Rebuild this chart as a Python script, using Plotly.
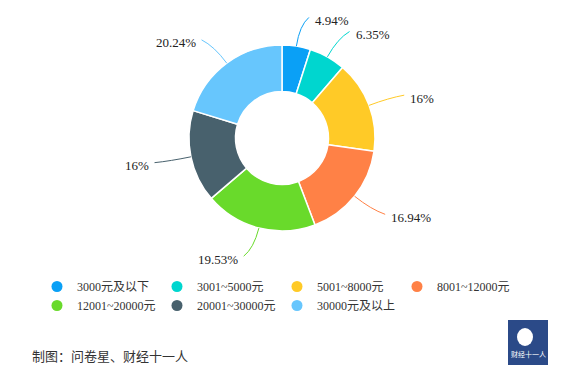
import math
import plotly.graph_objects as go

categories = ["3000元及以下", "3001~5000元", "5001~8000元", "8001~12000元",
              "12001~20000元", "20001~30000元", "30000元及以上"]
values = [4.94, 6.35, 16, 16.94, 19.53, 16, 20.24]
labels_text = ["4.94%", "6.35%", "16%", "16.94%", "19.53%", "16%", "20.24%"]
colors = ["#0aa0f6", "#00d6cf", "#ffca27", "#ff8146", "#69da2b", "#48616d", "#67c6fd"]

W, H = 570, 381
CX, CY, R = 282, 138, 93
R_CTRL = 114
R_END = 122
SHIFT = 8
GAP = 4


def px(x):
    return x / W


def py(y):
    return 1 - y / H


fig = go.Figure()
fig.add_trace(go.Pie(
    labels=categories, values=values, sort=False, direction="clockwise", rotation=0,
    hole=0.5, textinfo="none", hoverinfo="label+percent",
    marker=dict(colors=colors, line=dict(color="white", width=1.5)),
    domain=dict(x=[px(CX - R), px(CX + R)], y=[py(CY + R), py(CY - R)]),
    showlegend=False,
))

for cat, col in zip(categories, colors):
    fig.add_trace(go.Scatter(x=[None], y=[None], mode="markers", name=cat,
                             marker=dict(color=col, size=11, symbol="circle"),
                             showlegend=True))

total = sum(values)
shapes = []
annotations = []
cum = 0
for v, t, col in zip(values, labels_text, colors):
    mid = (cum + v / 2) / total * 2 * math.pi
    cum += v
    s, c = math.sin(mid), math.cos(mid)
    right = s >= 0
    sign = 1 if right else -1
    x0, y0 = CX + R * s, CY - R * c
    xc, yc = CX + R_CTRL * s, CY - R_CTRL * c
    x1, y1 = CX + R_END * s + sign * SHIFT, CY - R_END * c
    path = "M {:.5f} {:.5f} Q {:.5f} {:.5f} {:.5f} {:.5f}".format(
        px(x0), py(y0), px(xc), py(yc), px(x1), py(y1))
    shapes.append(dict(type="path", xref="paper", yref="paper", path=path,
                       line=dict(color=col, width=1)))
    annotations.append(dict(
        xref="paper", yref="paper", x=px(x1 + sign * GAP), y=py(y1 + 3),
        text=t, showarrow=False, xanchor="left" if right else "right", yanchor="middle",
        font=dict(family="Liberation Serif", size=13, color="#222222")))

annotations.append(dict(
    xref="paper", yref="paper", x=px(30), y=py(355), xanchor="left", yanchor="middle",
    text="制图：问卷星、财经十一人", showarrow=False,
    font=dict(family="Noto Sans CJK SC", size=13, color="#333333")))

# logo
shapes.append(dict(type="rect", xref="paper", yref="paper",
                   x0=px(508), x1=px(548), y0=py(365), y1=py(320),
                   fillcolor="#2b4a88", line=dict(width=0)))
shapes.append(dict(type="circle", xref="paper", yref="paper",
                   x0=px(517), x1=px(533), y0=py(346), y1=py(328),
                   fillcolor="white", line=dict(width=0)))
annotations.append(dict(
    xref="paper", yref="paper", x=px(528), y=py(354), xanchor="center", yanchor="middle",
    text="财经十一人", showarrow=False,
    font=dict(family="Noto Sans CJK SC", size=7, color="white")))

fig.update_layout(
    width=W, height=H, margin=dict(l=0, r=0, t=0, b=0),
    paper_bgcolor="white", plot_bgcolor="white",
    xaxis=dict(visible=False), yaxis=dict(visible=False),
    shapes=shapes, annotations=annotations,
    legend=dict(orientation="h", x=px(37), y=py(272), xanchor="left", yanchor="top",
                entrywidth=75, entrywidthmode="pixels", tracegroupgap=0,
                bgcolor="rgba(0,0,0,0)",
                font=dict(family="Liberation Serif, Noto Sans CJK SC", size=12, color="#333333"),
                itemclick=False, itemdoubleclick=False),
)

fig.write_html("out.html", config={"displayModeBar": False},
               post_script="document.body.style.margin='0px';")
